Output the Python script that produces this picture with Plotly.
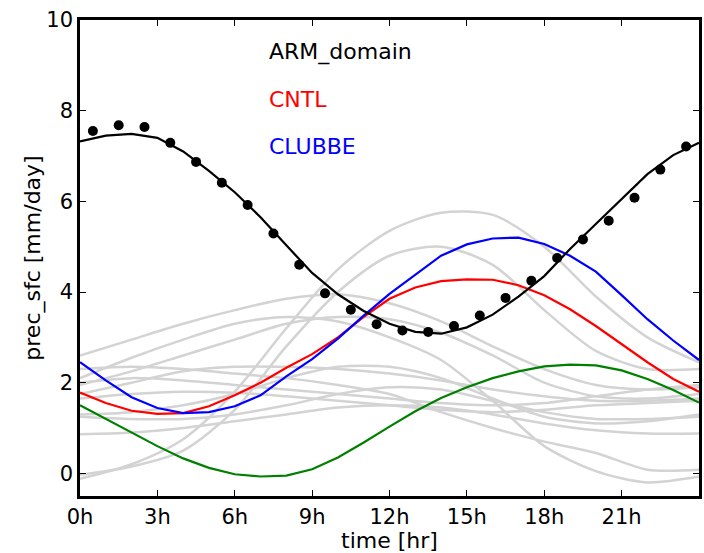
import plotly.graph_objects as go

hours = list(range(25))
hours2 = list(range(0, 25, 2))
obs_hours = [h + 0.5 for h in range(24)]

arm_line = [7.32, 7.45, 7.49, 7.40, 7.10, 6.67, 6.20, 5.65, 5.03, 4.42, 3.95, 3.58, 3.30,
            3.12, 3.08, 3.22, 3.50, 3.90, 4.35, 4.95, 5.50, 6.05, 6.60, 7.02, 7.29]
arm_obs = [7.55, 7.68, 7.64, 7.29, 6.87, 6.41, 5.92, 5.29, 4.60, 3.97, 3.61, 3.29,
           3.15, 3.12, 3.25, 3.48, 3.87, 4.25, 4.75, 5.16, 5.57, 6.08, 6.70, 7.21]
cntl = [1.78, 1.55, 1.38, 1.31, 1.33, 1.48, 1.72, 2.00, 2.33, 2.63, 3.00, 3.45, 3.85,
        4.10, 4.24, 4.28, 4.27, 4.15, 3.93, 3.62, 3.25, 2.85, 2.45, 2.08, 1.80]
clubbe = [2.45, 2.05, 1.68, 1.44, 1.33, 1.35, 1.48, 1.72, 2.14, 2.52, 2.97, 3.48, 3.96,
          4.38, 4.80, 5.05, 5.18, 5.20, 5.06, 4.80, 4.45, 3.93, 3.40, 2.93, 2.50]
green = [1.50, 1.20, 0.90, 0.60, 0.33, 0.12, -0.02, -0.07, -0.05, 0.09, 0.35, 0.68, 1.03,
         1.37, 1.66, 1.90, 2.10, 2.25, 2.36, 2.40, 2.38, 2.27, 2.08, 1.84, 1.56]

gray_runs = [
    [-0.12, 0.20, 0.75, 1.80, 3.20, 4.50, 5.35, 5.75, 5.70, 5.00, 3.90, 3.00, 2.45],
    [-0.03, 0.15, 0.50, 1.40, 2.80, 4.00, 4.80, 5.00, 4.60, 3.60, 2.70, 2.30, 2.30],
    [2.60, 2.95, 3.30, 3.60, 3.85, 3.95, 3.75, 3.35, 2.80, 2.30, 1.95, 1.85, 1.90],
    [2.10, 2.55, 2.95, 3.30, 3.45, 3.35, 3.00, 2.50, 1.60, 0.60, 0.05, -0.20, -0.07],
    [1.95, 2.25, 2.60, 2.95, 3.30, 3.45, 3.40, 3.10, 2.60, 2.00, 1.70, 1.65, 1.75],
    [1.75, 2.00, 2.25, 2.35, 2.35, 2.30, 2.20, 2.05, 1.85, 1.70, 1.60, 1.60, 1.65],
    [1.65, 1.75, 1.80, 1.78, 1.70, 1.60, 1.50, 1.40, 1.35, 1.40, 1.50, 1.55, 1.60],
    [1.30, 1.35, 1.50, 1.75, 2.10, 2.35, 2.35, 2.10, 1.65, 1.25, 1.10, 1.15, 1.30],
    [1.25, 1.20, 1.20, 1.30, 1.50, 1.75, 1.90, 1.85, 1.60, 1.35, 1.20, 1.20, 1.25],
    [0.86, 0.90, 1.00, 1.15, 1.30, 1.45, 1.50, 1.45, 1.30, 1.10, 0.95, 0.88, 0.88],
    [2.30, 2.35, 2.30, 2.20, 2.10, 1.95, 1.75, 1.35, 1.00, 0.70, 0.45, 0.08, 0.08],
    [2.00, 2.10, 2.05, 1.95, 1.85, 1.75, 1.65, 1.55, 1.50, 1.55, 1.70, 1.85, 1.95],
]

xtick_vals = [0, 3, 6, 9, 12, 15, 18, 21]
xtick_text = ["0h", "3h", "6h", "9h", "12h", "15h", "18h", "21h"]
ytick_vals = [0, 2, 4, 6, 8, 10]

FONT = "DejaVu Sans"

fig = go.Figure()
for run in gray_runs:
    fig.add_trace(go.Scatter(x=hours2, y=run, mode="lines",
                             line=dict(color="#d3d3d3", width=2.5, shape="spline", smoothing=0.8),
                             showlegend=False, hoverinfo="skip"))
fig.add_trace(go.Scatter(x=hours, y=green, mode="lines", line=dict(color="#008000", width=2.2), showlegend=False))
fig.add_trace(go.Scatter(x=hours, y=cntl, mode="lines", line=dict(color="#ff0000", width=2.2), showlegend=False))
fig.add_trace(go.Scatter(x=hours, y=clubbe, mode="lines", line=dict(color="#0000ff", width=2.2), showlegend=False))
fig.add_trace(go.Scatter(x=hours, y=arm_line, mode="lines", line=dict(color="black", width=2.2), showlegend=False))
fig.add_trace(go.Scatter(x=obs_hours, y=arm_obs, mode="markers",
                         marker=dict(color="black", size=10), showlegend=False))

labels = [("ARM_domain", "black", 9.3), ("CNTL", "#ff0000", 8.24), ("CLUBBE", "#0000ff", 7.2)]
for txt, col, yv in labels:
    fig.add_annotation(x=7.25, y=yv, text=txt, showarrow=False, xanchor="left", yanchor="middle",
                       font=dict(color=col, size=22, family=FONT))

axis_common = dict(showline=True, linecolor="black", linewidth=2.5, mirror="allticks",
                   ticks="inside", ticklen=6, tickwidth=1, tickcolor="black",
                   showgrid=False, zeroline=False,
                   tickfont=dict(size=21, family=FONT, color="black"))

fig.update_xaxes(range=[0, 24], tickvals=xtick_vals, ticktext=xtick_text,
                 title=dict(text="time [hr]", font=dict(size=22, family=FONT, color="black"), standoff=4),
                 **axis_common)
fig.update_yaxes(range=[-0.5, 10], tickvals=ytick_vals,
                 title=dict(text="prec_sfc [mm/day]", font=dict(size=22, family=FONT, color="black"), standoff=0),
                 **axis_common)

fig.update_layout(width=704, height=553, margin=dict(l=80, r=2, t=20, b=57),
                  plot_bgcolor="white", paper_bgcolor="white",
                  font=dict(family=FONT, color="black"))

fig.write_html("out.html")
